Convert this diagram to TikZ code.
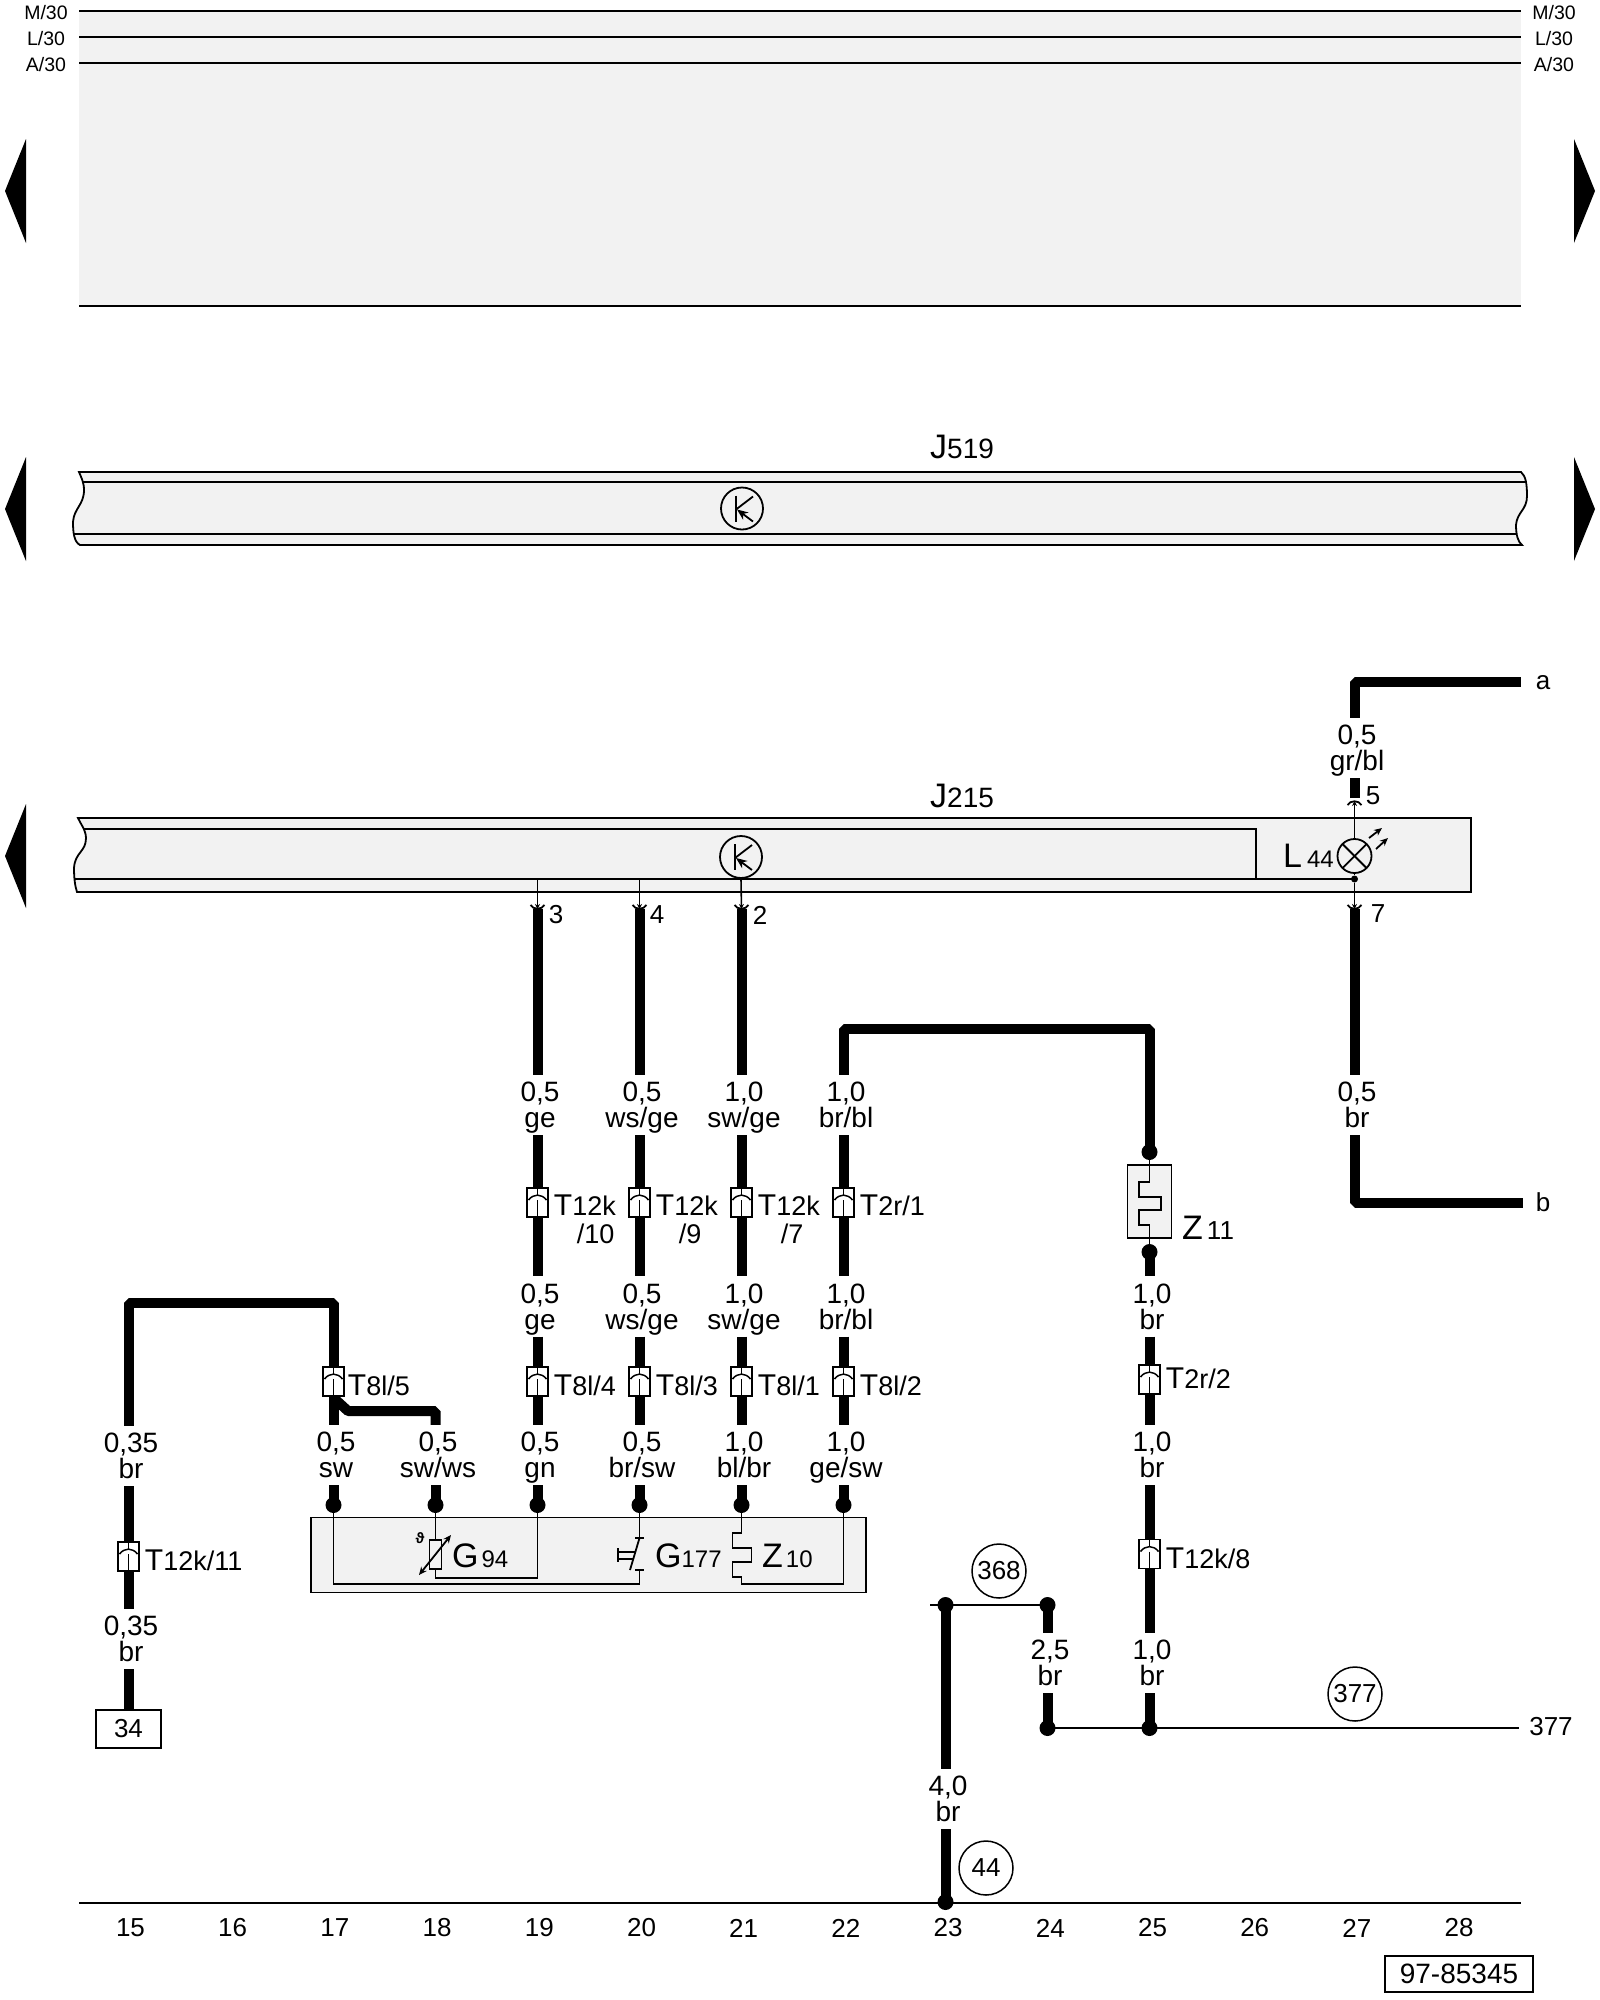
\documentclass[tikz,border=0pt]{standalone}
\usepackage{fontspec}
\setmainfont{Liberation Sans}
\usetikzlibrary{arrows.meta,calc}
\definecolor{bargray}{gray}{0.95}
\newcommand{\tagtext}[3]{{\fontsize{34}{34}\selectfont #1}\kern#3pt{\fontsize{24}{24}\selectfont #2}}
\newcommand{\plugtext}[1]{{\fontsize{30}{30}\selectfont T}{\fontsize{27}{27}\selectfont #1}}
\newcommand{\wl}[2]{\hspace*{5pt}\rule{0pt}{25pt}#1\\\hspace*{5pt}#2\rule[-6pt]{0pt}{6pt}}
\tikzset{
    line/.style={line width=1.8pt},
    bus/.style={line width=2pt},
    wire/.style={line width=10pt,line join=bevel},
    pinline/.style={line width=1.6pt,-{Stealth[length=5pt,width=5pt]}},
    wlabel/.style={inner sep=0,align=center,minimum height=60pt,font=\fontsize{28}{26}\selectfont},
    numlabel/.style={inner sep=0,font=\fontsize{26}{26}\selectfont},
    buslabel/.style={inner sep=0,font=\fontsize{19.5}{20}\selectfont},
    tlabel/.style={inner sep=0,anchor=base west},
    plug/.style={draw,line width=1.5pt,fill=white,rectangle,minimum width=21pt,minimum height=29pt,inner sep=0,
        path picture={\begin{scope}[shift={(path picture bounding box.center)}]
            \draw[line width=1.5pt] (0,-14.5) -- (0,-7.5);
            \draw[line width=1.5pt] (-9,-2.5) .. controls (-4,-9) and (4,-9) .. (9,-2.5);
            \draw[line width=1.5pt] (0,-2.5) -- (0,14.5);
        \end{scope}}},
    dot/.style={circle,fill=black,inner sep=0,minimum size=16pt},
    refcircle/.style={circle,draw,line width=1.5pt,minimum size=54pt,inner sep=0,font=\fontsize{26}{26}\selectfont},
    transistor/.style={circle,draw,line width=1.8pt,minimum size=42pt,inner sep=0,
        path picture={\begin{scope}[shift={(path picture bounding box.center)}]
            \draw[line width=1.8pt] (-6,-13) -- (-6,13);
            \draw[line width=1.8pt] (-6,1) -- (11,-12);
            \draw[line width=1.8pt,-{Stealth[length=11pt,width=9pt]}] (11,13) -- (-5,1);
        \end{scope}}},
    lamp/.style={circle,draw,line width=1.8pt,minimum size=34pt,inner sep=0,
        path picture={\begin{scope}[shift={(path picture bounding box.center)}]
            \draw[line width=1.8pt] (-12,-12) -- (12,12);
            \draw[line width=1.8pt] (-12,12) -- (12,-12);
        \end{scope}}},
    flag/.style={fill=black,line width=0pt}
}
\begin{document}
\begin{tikzpicture}[x=1pt,y=-1pt]
\useasboundingbox (0,0) rectangle (1600,2000);
% top bus area
\fill[bargray] (79,11) rectangle (1521,306);
\foreach \n/\y in {M/11,L/37,A/63}{
    \coordinate (bs\n) at (79,\y);
    \coordinate (be\n) at (1521,\y);
    \draw[bus] (bs\n) -- (be\n);
    \node[buslabel] (bl\n) at (46,\y+2) {\n/30};
    \node[buslabel] (br\n) at (1554,\y+2) {\n/30};
}
\coordinate (bsE) at (79,306);
\coordinate (beE) at (1521,306);
\draw[bus] (bsE) -- (beE);
% page arrows
\foreach \y in {191,509,856}
    \fill[flag] (26,\y-52) -- (5,\y) -- (26,\y+52) -- cycle;
\foreach \y in {191,509}
    \fill[flag] (1574,\y-52) -- (1595,\y) -- (1574,\y+52) -- cycle;
% J519
\draw[line,fill=bargray] (79,472) .. controls (81,477) and (84,482) .. (84,490)
    .. controls (84,505) and (74,508) .. (73,522) .. controls (73,532) and (74,542) .. (80,545)
    -- (1522,545) .. controls (1518,542) and (1516,535) .. (1516,525)
    .. controls (1517,512) and (1527,510) .. (1527,496) .. controls (1527,485) and (1526,476) .. (1521,472) -- cycle;
\draw[line] (83,482) -- (1526,482);
\draw[line] (74,534) -- (1517,534);
\node[transistor] (t519) at (742,508.5) {};
\node[tlabel] (j519) at (930,458) {\tagtext{J}{\fontsize{28}{28}\selectfont 519}{0}};
% J215
\draw[line,fill=bargray] (78,818) .. controls (80,823) and (86,830) .. (86,838)
    .. controls (86,852) and (75,852) .. (74,868) .. controls (74,878) and (75,886) .. (77,892)
    -- (1471,892) -- (1471,818) -- cycle;
\draw[line] (83,829) -- (1256,829) -- (1256,879);
\draw[line] (74,879) -- (1354,879);
\node[transistor] (t215) at (741,857) {};
\node[tlabel] (j215) at (930,807) {\tagtext{J}{\fontsize{28}{28}\selectfont 215}{0}};
\node[lamp] (l44) at (1354.5,856) {};
\node[tlabel] (tl44) at (1283,867) {\tagtext{L}{44}{5}};
\node[circle,fill=black,inner sep=0,minimum size=7pt] (j44) at (1354.5,879) {};
\draw[line] (l44.south) -- (j44);
\draw[line,-{Stealth[length=8pt,width=7pt]}] (1369,838) -- (1382,828);
\draw[line,-{Stealth[length=8pt,width=7pt]}] (1376,849) -- (1388,838);
% pins
\coordinate (s19) at (537.5,880);
\coordinate (s20) at (639.5,880);
\coordinate (pin19) at (537.5,909);
\coordinate (pin20) at (639.5,909);
\coordinate (pin21) at (741.5,909);
\coordinate (pin27) at (1354.5,909);
\coordinate (pin27t) at (1354.5,801);
\draw[pinline] (s19) -- (pin19);
\draw[pinline] (s20) -- (pin20);
\draw[pinline] (t215.south) -- (pin21);
\draw[pinline] (j44) -- (pin27);
\draw[pinline] (l44.north) -- (pin27t);
\foreach \x in {537.5,639.5,741.5,1354.5}
    \draw[line] (\x-7,905) .. controls (\x-4,910) and (\x+4,910) .. (\x+7,905);
\draw[line] (1347.5,805) .. controls (1350.5,800) and (1358.5,800) .. (1361.5,805);
\node[numlabel] (n3) at (556,915) {3};
\node[numlabel] (n4) at (657,915) {4};
\node[numlabel] (n2) at (760,915) {2};
\node[numlabel] (n5) at (1373,796) {5};
\node[numlabel] (n7) at (1378,914) {7};
% plugs
\foreach \n/\x in {19/537.5,20/639.5,21/741.5,22/843.5}
    \node[plug] (pa\n) at (\x,1202.5) {};
\foreach \n/\x in {17/333.5,19/537.5,20/639.5,21/741.5,22/843.5}
    \node[plug] (pb\n) at (\x,1381.5) {};
\node[plug] (pb25) at (1149.5,1379.5) {};
\node[plug] (pc15) at (128.5,1556.5) {};
\node[plug] (pc25) at (1149.5,1554) {};
\node[tlabel] (ta19) at ([xshift=5pt,yshift=2pt]pa19.south east) {\plugtext{12k}};
\node[tlabel] (ta19b) at ([xshift=23pt,yshift=-28pt]ta19.base west) {\fontsize{27}{27}\selectfont /10};
\node[tlabel] (ta20) at ([xshift=5pt,yshift=2pt]pa20.south east) {\plugtext{12k}};
\node[tlabel] (ta20b) at ([xshift=23pt,yshift=-28pt]ta20.base west) {\fontsize{27}{27}\selectfont /9};
\node[tlabel] (ta21) at ([xshift=5pt,yshift=2pt]pa21.south east) {\plugtext{12k}};
\node[tlabel] (ta21b) at ([xshift=23pt,yshift=-28pt]ta21.base west) {\fontsize{27}{27}\selectfont /7};
\node[tlabel] (ta22) at ([xshift=5pt,yshift=2pt]pa22.south east) {\plugtext{2r/1}};
\node[tlabel] (tb17) at ([xshift=3pt,yshift=1pt]pb17.south east) {\plugtext{8l/5}};
\node[tlabel] (tb19) at ([xshift=5pt,yshift=1pt]pb19.south east) {\plugtext{8l/4}};
\node[tlabel] (tb20) at ([xshift=5pt,yshift=1pt]pb20.south east) {\plugtext{8l/3}};
\node[tlabel] (tb21) at ([xshift=5pt,yshift=1pt]pb21.south east) {\plugtext{8l/1}};
\node[tlabel] (tb22) at ([xshift=5pt,yshift=1pt]pb22.south east) {\plugtext{8l/2}};
\node[tlabel] (tb25) at ([xshift=5pt,yshift=6pt]pb25.south east) {\plugtext{2r/2}};
\node[tlabel] (tc15) at ([xshift=5pt,yshift=1pt]pc15.south east) {\plugtext{12k/11}};
\node[tlabel] (tc25) at ([xshift=5pt,yshift=1pt]pc25.south east) {\plugtext{12k/8}};
% wire labels
\node[wlabel] (la19) at (537.5,1105) {\wl{0,5}{ge}};
\node[wlabel] (la20) at (639.5,1105) {\wl{0,5}{ws/ge}};
\node[wlabel] (la21) at (741.5,1105) {\wl{1,0}{sw/ge}};
\node[wlabel] (la22) at (843.5,1105) {\wl{1,0}{br/bl}};
\node[wlabel] (lb19) at (537.5,1306.5) {\wl{0,5}{ge}};
\node[wlabel] (lb20) at (639.5,1306.5) {\wl{0,5}{ws/ge}};
\node[wlabel] (lb21) at (741.5,1306.5) {\wl{1,0}{sw/ge}};
\node[wlabel] (lb22) at (843.5,1306.5) {\wl{1,0}{br/bl}};
\node[wlabel] (lc17) at (333.5,1455) {\wl{0,5}{sw}};
\node[wlabel] (lc18) at (435.5,1455) {\wl{0,5}{sw/ws}};
\node[wlabel] (lc19) at (537.5,1455) {\wl{0,5}{gn}};
\node[wlabel] (lc20) at (639.5,1455) {\wl{0,5}{br/sw}};
\node[wlabel] (lc21) at (741.5,1455) {\wl{1,0}{bl/br}};
\node[wlabel] (lc22) at (843.5,1455) {\wl{1,0}{ge/sw}};
\node[wlabel] (la15) at (128.5,1456) {\wl{0,35}{br}};
\node[wlabel] (lb15) at (128.5,1639) {\wl{0,35}{br}};
\node[wlabel] (lb25) at (1149.5,1306.5) {\wl{1,0}{br}};
\node[wlabel] (lc25) at (1149.5,1455) {\wl{1,0}{br}};
\node[wlabel] (ld25) at (1149.5,1663) {\wl{1,0}{br}};
\node[wlabel] (ld24) at (1047.5,1663) {\wl{2,5}{br}};
\node[wlabel] (le23) at (945.5,1799) {\wl{4,0}{br}};
\node[wlabel] (lt27) at (1354.5,748) {\wl{0,5}{gr/bl}};
\node[wlabel] (lu27) at (1354.5,1105) {\wl{0,5}{br}};
% G94, G177, Z10 box
\node[draw,line,fill=bargray,rectangle,minimum width=555pt,minimum height=75pt,inner sep=0] (gbox) at (588.5,1555) {};
\foreach \n/\x in {17/333.5,18/435.5,19/537.5,20/639.5,21/741.5,22/843.5}
    \node[dot] (d\n) at (\x,1505) {};
\node[draw,line,rectangle,minimum width=12pt,minimum height=29pt,inner sep=0] (r94) at (435.5,1554.5) {};
\draw[line] (d18.center) -- (r94.north);
\draw[line] (r94.south) -- ++(0,8) -| (d19.center);
\draw[line,{Stealth[length=8pt,width=7pt]}-{Stealth[length=8pt,width=7pt]}] (419,1575) -- (451,1535);
\node[inner sep=0,font=\fontsize{15}{15}\selectfont\bfseries] (theta) at (420,1538) {ϑ};
\node[tlabel] (tg94) at (452,1567) {\tagtext{G}{94}{3}};
\coordinate (sw1) at (639.5,1538);
\coordinate (sw2) at (639.5,1570);
\draw[line] (d20.center) -- (sw1);
\draw[line] (635,1538) -- (644,1538);
\draw[line] (635,1570) -- (644,1570);
\draw[line] (sw1) -- (630,1570);
\draw[line] (618,1548) -- (618,1562);
\draw[line] (618,1552) -- (636,1552);
\draw[line] (618,1559) -- (633,1559);
\draw[line] (d17.center) |- (sw2 |- 0,1584) -- (sw2);
\node[tlabel] (tg177) at (655,1567) {\tagtext{G}{177}{0}};
\draw[line] (d21.center) -- (741.5,1533) -- (732.5,1533) -- (732.5,1548) -- (751.5,1548) -- (751.5,1562)
    -- (732.5,1562) -- (732.5,1577) -- (741.5,1577) -- (741.5,1584) -| (d22.center);
\node[tlabel] (tz10) at (762,1567) {\tagtext{Z}{10}{3}};
% Z11
\node[dot] (dz1) at (1149.5,1152) {};
\node[dot] (dz2) at (1149.5,1252) {};
\node[draw,line,fill=bargray,rectangle,minimum width=44pt,minimum height=73pt,inner sep=0] (z11) at (1149.5,1201.5) {};
\draw[line] (dz1.center) -- (1149.5,1182) -- (1139,1182) -- (1139,1197) -- (1161,1197) -- (1161,1210)
    -- (1139,1210) -- (1139,1225) -- (1149.5,1225) -- (dz2.center);
\node[tlabel] (tz11) at (1182,1239) {\tagtext{Z}{\fontsize{26}{26}\selectfont 11}{4}};
% wires
\foreach \n in {19,20,21,22}{
    \draw[wire] (la\n.south) -- (pa\n.north);
    \draw[wire] (pa\n.south) -- (lb\n.north);
    \draw[wire] (lb\n.south) -- (pb\n.north);
    \draw[wire] (pb\n.south) -- (lc\n.north);
    \draw[wire] (lc\n.south) -- (d\n.center);
}
\foreach \n in {19,20,21}
    \draw[wire] (pin\n) -- (la\n.north);
\coordinate (top22) at (843.5,1029);
\draw[wire] (la22.north) -- (top22) -| (dz1.center);
\draw[wire] (dz2.center) -- (lb25.north);
\draw[wire] (lb25.south) -- (pb25.north);
\draw[wire] (pb25.south) -- (lc25.north);
\draw[wire] (lc25.south) -- (pc25.north);
\draw[wire] (pc25.south) -- (ld25.north);
\coordinate (top15) at (128.5,1303);
\draw[wire] (la15.north) -- (top15) -| (pb17.north);
\draw[wire] (pb17.south) -- (lc17.north);
\coordinate (br17) at (336,1400);
\coordinate (br18) at (348,1411);
\draw[wire] (br17) -- (br18) -| (lc18.north);
\draw[wire] (lc17.south) -- (d17.center);
\draw[wire] (lc18.south) -- (d18.center);
\draw[wire] (la15.south) -- (pc15.north);
\draw[wire] (pc15.south) -- (lb15.north);
\node[draw,line,rectangle,minimum width=65pt,minimum height=38pt,inner sep=0,font=\fontsize{26}{26}\selectfont] (b34) at (128.5,1729) {34};
\draw[wire] (lb15.south) -- (b34.north);
% ground lines
\node[dot] (d23t) at (945.5,1605) {};
\node[dot] (d24t) at (1047.5,1605) {};
\node[dot] (d24b) at (1047.5,1728) {};
\node[dot] (d25b) at (1149.5,1728) {};
\node[dot] (d23b) at (945.5,1902) {};
\coordinate (g368) at (930,1605);
\coordinate (e377) at (1519,1728);
\coordinate (g0) at (79,1902.5);
\coordinate (g1) at (1521,1902.5);
\draw[bus] (g368) -- (d24t.center);
\draw[bus] (d24b.center) -- (e377);
\draw[bus] (g0) -- (g1);
\draw[wire] (d23t.center) -- (le23.north);
\draw[wire] (le23.south) -- (d23b.center);
\draw[wire] (d24t.center) -- (ld24.north);
\draw[wire] (ld24.south) -- (d24b.center);
\draw[wire] (ld25.south) -- (d25b.center);
\node[refcircle] (r368) at (999,1571) {368};
\node[refcircle] (r377) at (1355,1694) {377};
\node[refcircle] (r44) at (986,1868) {44};
\node[numlabel] (t377) at (1551,1727) {377};
% a and b
\coordinate (ca) at (1354.5,682);
\coordinate (ea) at (1521,682);
\coordinate (cb) at (1354.5,1203);
\coordinate (eb) at (1523,1203);
\draw[wire] (pin27t) ++(0,-3) -- (lt27.south);
\draw[wire] (lt27.north) -- (ca) -- (ea);
\draw[wire] (pin27) -- (lu27.north);
\draw[wire] (lu27.south) -- (cb) -- (eb);
\node[numlabel] (ta) at (1543,683) {a};
\node[numlabel] (tb) at (1543,1202) {b};
% column numbers
\foreach \n [evaluate=\n as \x using 130.5+102.2*(\n-15)] in {15,...,28}
    \node[numlabel] (col\n) at (\x,1928) {\n};
\node[draw,line,rectangle,minimum width=148pt,minimum height=36pt,inner sep=0,font=\fontsize{28}{28}\selectfont] (code) at (1459,1974) {97-85345};
\end{tikzpicture}
\end{document}
